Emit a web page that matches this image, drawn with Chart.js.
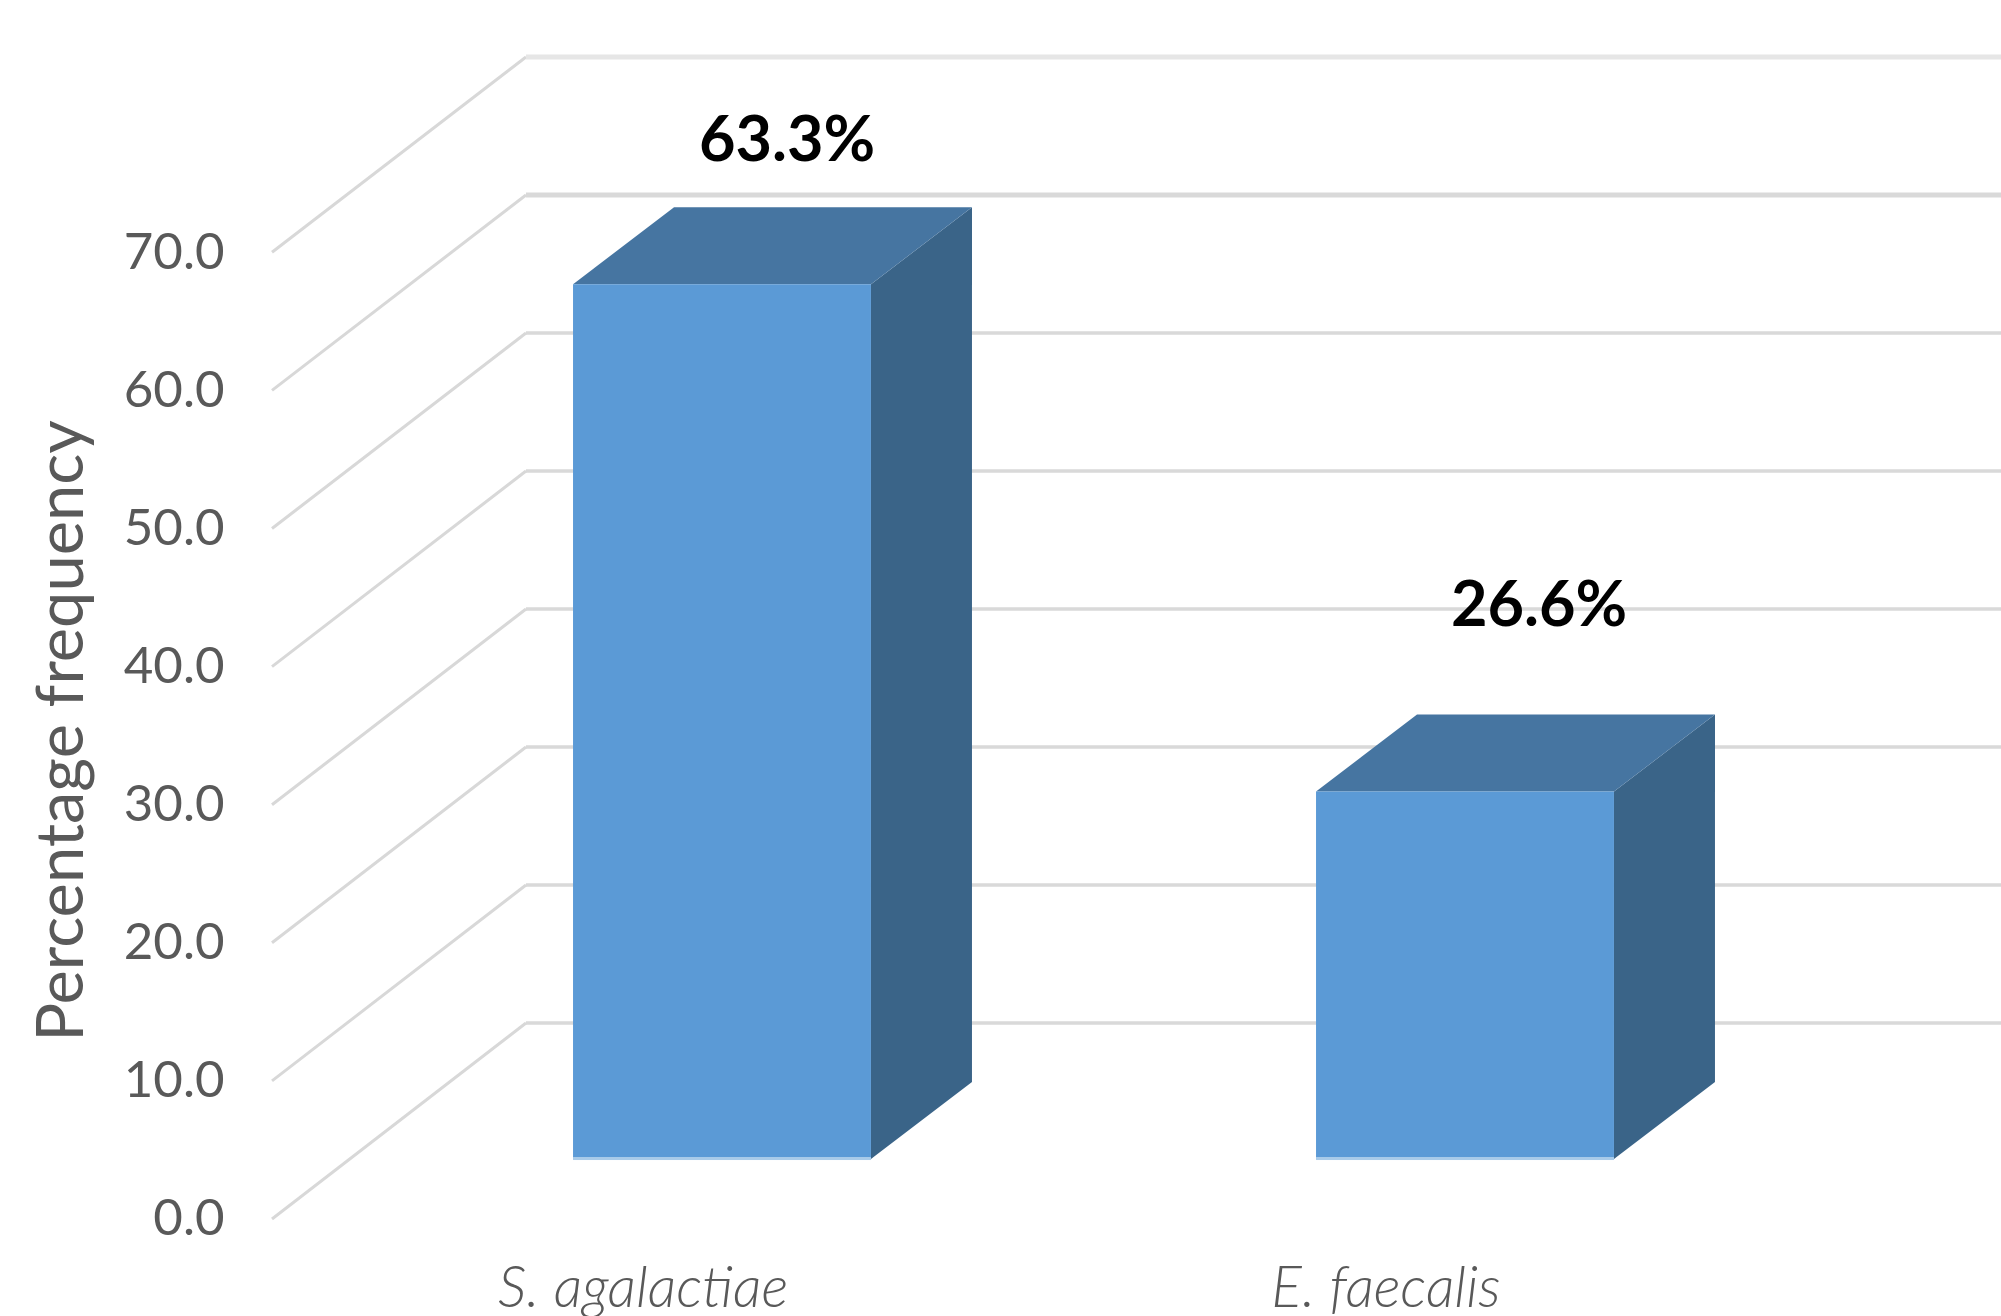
<!DOCTYPE html>
<html><head><meta charset="utf-8">
<style>html,body{margin:0;padding:0;background:#fff}canvas{display:block}</style>
<script src="https://cdn.jsdelivr.net/npm/chart.js@4/dist/chart.umd.min.js"></script>
</head><body><canvas id="c" width="2001" height="1316"></canvas>
<script>
const categories = ["S. agalactiae", "E. faecalis"];
const values = [63.3, 26.6];
const valueLabels = ["63.3%", "26.6%"];
const tickValues = [0, 10, 20, 30, 40, 50, 60, 70];
const axisTitle = "Percentage frequency";

const depthBar = {dx: 101, dy: 77};
const labelOffsets = [{dx: 65, dy: -144}, {dx: 74, dy: -186}];
const wallLeft = 526, axisLeft = 272, titleShift = 186;

const depthPlugin = {
  id: 'depth',
  beforeDraw(chart) {
    const s = chart.scales.yFront;
    if (s.drawTitle.shifted) return;
    const orig = s.drawTitle;
    s.drawTitle = function () {
      const t = this.top;
      this.top = t + titleShift;
      orig.call(this);
      this.top = t;
    };
    s.drawTitle.shifted = true;
  },
  beforeDatasetsDraw(chart) {
    const c = chart.ctx, wall = chart.scales.yWall, front = chart.scales.yFront;
    c.save();
    tickValues.forEach(v => {
      const yf = front.getPixelForValue(v), yw = wall.getPixelForValue(v);
      c.strokeStyle = '#d8d8d8';
      c.lineWidth = 3;
      c.beginPath(); c.moveTo(axisLeft, yf); c.lineTo(wallLeft, yw); c.stroke();
      c.strokeStyle = v === 70 ? '#e6e6e6' : '#d9d9d9';
      c.lineWidth = v >= 60 ? 5 : 3.5;
      c.beginPath(); c.moveTo(wallLeft, yw); c.lineTo(chart.width, yw); c.stroke();
    });
    const meta = chart.getDatasetMeta(0);
    meta.data.forEach(b => {
      const l = b.x - b.width / 2, r = b.x + b.width / 2, t = b.y, bt = b.base;
      c.fillStyle = '#3a6488';
      c.beginPath();
      c.moveTo(r, t); c.lineTo(r + depthBar.dx, t - depthBar.dy);
      c.lineTo(r + depthBar.dx, bt - depthBar.dy); c.lineTo(r, bt);
      c.closePath(); c.fill();
      c.fillStyle = '#4675a1';
      c.beginPath();
      c.moveTo(l, t); c.lineTo(l + depthBar.dx, t - depthBar.dy);
      c.lineTo(r + depthBar.dx, t - depthBar.dy); c.lineTo(r, t);
      c.closePath(); c.fill();
    });
    c.restore();
  },
  afterDatasetsDraw(chart) {
    const c = chart.ctx;
    c.save();
    const meta = chart.getDatasetMeta(0);
    meta.data.forEach((b, i) => {
      const l = b.x - b.width / 2;
      c.fillStyle = '#a9cbe9';
      c.fillRect(l, b.base - 2, b.width, 3);
      c.fillStyle = '#000';
      c.font = 'bold 63px Lato';
      c.textAlign = 'center';
      c.textBaseline = 'middle';
      c.fillText(valueLabels[i], b.x + labelOffsets[i].dx, b.y + labelOffsets[i].dy);
    });
    c.restore();
  }
};

new Chart(document.getElementById('c'), {
  type: 'bar',
  data: {
    labels: categories,
    datasets: [{
      data: values,
      yAxisID: 'yBar',
      backgroundColor: '#5b9ad6',
      borderWidth: 0,
      categoryPercentage: 1,
      barPercentage: 0.401
    }]
  },
  plugins: [depthPlugin],
  options: {
    responsive: false,
    devicePixelRatio: 1,
    animation: false,
    layout: {autoPadding: false, padding: {top: 57, right: 164.5, left: 0, bottom: 0}},
    plugins: {legend: {display: false}, tooltip: {enabled: false}},
    scales: {
      x: {
        grid: {display: false},
        border: {display: false},
        ticks: {
          padding: 27, labelOffset: -79, maxRotation: 0, autoSkip: false,
          color: '#595959', font: {family: 'Lato', style: 'italic', size: 57, weight: 300}
        },
        afterFit(s) { s.height = 97; s.paddingLeft = s.paddingRight = 0; }
      },
      yBar: {display: false, min: -4.34, max: 79.74},
      yWall: {display: false, min: -14.2, max: 70},
      yFront: {
        position: 'left',
        min: 0, max: 84.14,
        grid: {display: false},
        border: {display: false},
        afterBuildTicks(s) { s.ticks = tickValues.map(v => ({value: v})); },
        afterFit(s) { s.width = 350.5; s.paddingTop = s.paddingBottom = 0; },
        title: {
          display: true, text: axisTitle, color: '#595959',
          font: {family: 'Lato', size: 65, weight: 400},
          padding: {top: 23, bottom: 0}
        },
        ticks: {
          padding: 118, autoSkip: false, color: '#595959',
          font: {family: 'Lato', size: 51, weight: 400},
          callback: v => Number(v).toFixed(1)
        }
      }
    }
  }
});
</script></body></html>
